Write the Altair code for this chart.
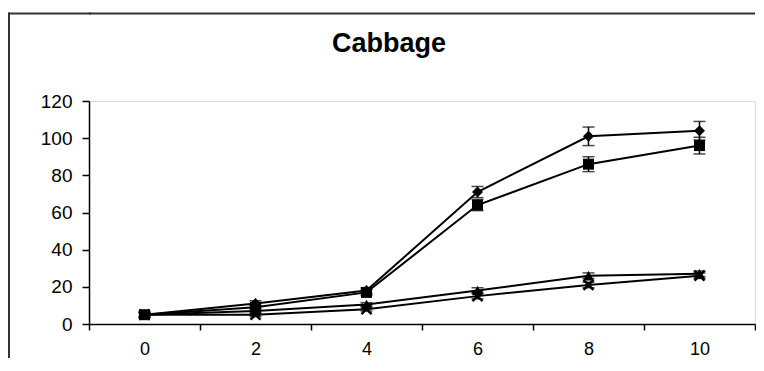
import altair as alt
import pandas as pd

# ---- data ----
days = [0, 2, 4, 6, 8, 10]
series_names = ["A", "B", "C", "D"]
diamond_vals = [5, 11, 18, 71, 101, 104]
square_vals = [5, 9, 17, 64, 86, 96]
triangle_vals = [5, 7, 10.5, 18, 26, 27]
cross_vals = [5, 5, 8, 15, 21, 26]
diamond_err = [1.5, 1.5, 1.5, 3, 5, 5]
square_err = [1.5, 1, 1.5, 3, 4, 4.5]
triangle_err = [1, 1.5, 1, 1.5, 1.5, 1.5]
cross_err = [1, 1, 1, 1.5, 1.5, 1.5]
y_ticks = [0, 20, 40, 60, 80, 100, 120]
title_text = "Cabbage"

rows = []
for name, vals, errs in zip(series_names,
                            [diamond_vals, square_vals, triangle_vals, cross_vals],
                            [diamond_err, square_err, triangle_err, cross_err]):
    for d, v, e in zip(days, vals, errs):
        rows.append({"series": name, "t": d, "y": v, "lo": v - e, "hi": v + e})
df = pd.DataFrame(rows)

FONT = "Liberation Sans"
BLACK = "#000000"

xaxis = alt.Axis(title=None, labelAngle=0, tickBand="extent",
                 domainColor=BLACK, domainWidth=1.5, tickColor=BLACK,
                 tickWidth=1.5, tickSize=6, labelFont=FONT, labelFontSize=18,
                 labelColor=BLACK, labelPadding=10, grid=False)
yaxis = alt.Axis(title=None, values=y_ticks, labelOverlap=False,
                 domainColor=BLACK, domainWidth=1.5, tickColor=BLACK,
                 tickWidth=1.5, tickSize=7, labelFont=FONT, labelFontSize=19,
                 labelColor=BLACK, labelPadding=10, grid=False)
xscale = alt.Scale(type="band", paddingInner=0, paddingOuter=0)
yscale = alt.Scale(domain=[0, 120], nice=False, zero=True)


def X():
    return alt.X("t:O", bandPosition=0.5, scale=xscale, axis=xaxis)


def Y(field):
    return alt.Y(field, type="quantitative", scale=yscale, axis=yaxis)


base = alt.Chart(df)

lines = base.mark_line(color=BLACK, strokeWidth=2).encode(
    x=X(), y=Y("y"), detail="series:N")

err_rule = base.mark_rule(color=BLACK, strokeWidth=1.5).encode(
    x=X(), y=Y("lo"), y2="hi:Q")
err_lo = base.mark_tick(color=BLACK, size=12, thickness=1.5).encode(
    x=X(), y=Y("lo"))
err_hi = base.mark_tick(color=BLACK, size=12, thickness=1.5).encode(
    x=X(), y=Y("hi"))

filled_pts = base.transform_filter(alt.datum.series != "D").mark_point(
    filled=True, color=BLACK, opacity=1, size=120).encode(
    x=X(), y=Y("y"),
    shape=alt.Shape("series:N", legend=None,
                    scale=alt.Scale(domain=["A", "B", "C"],
                                    range=["diamond", "square", "triangle-up"])))
cross_pts = base.transform_filter(alt.datum.series == "D").mark_point(
    filled=False, color=BLACK, opacity=1, size=100, strokeWidth=2.5,
    shape="M-1,-1L1,1M-1,1L1,-1").encode(
    x=X(), y=Y("y"))

title = alt.Chart(pd.DataFrame({"label": [title_text]})).mark_text(
    font=FONT, fontSize=27, fontWeight="bold", color=BLACK,
    align="center", baseline="alphabetic").encode(
    text="label:N", x=alt.value(300), y=alt.value(-49))

# chart-area border: left edge and top edge
frame_df = pd.DataFrame({"k": [0]})
frame_left = alt.Chart(frame_df).mark_rule(color="#333333", strokeWidth=2).encode(
    x=alt.value(-80), y=alt.value(-88.5), y2=alt.value(260))
frame_top = alt.Chart(frame_df).mark_rule(color="#333333", strokeWidth=2).encode(
    y=alt.value(-87.5))
frame_top_left = alt.Chart(frame_df).mark_rule(color="#333333", strokeWidth=2).encode(
    x=alt.value(-81), x2=alt.value(2), y=alt.value(-87.5), y2=alt.value(-87.5))

chart = alt.layer(frame_left, frame_top, frame_top_left, lines, err_rule, err_lo,
                  err_hi, filled_pts, cross_pts, title).properties(
    width=666, height=223,
    autosize=alt.AutoSizeParams(type="none"),
    padding={"left": 81, "top": 93, "right": 1, "bottom": 34},
).configure_view(stroke=None).configure(background="white")

chart.save("out.html", embed_options={"renderer": "svg", "actions": False})
